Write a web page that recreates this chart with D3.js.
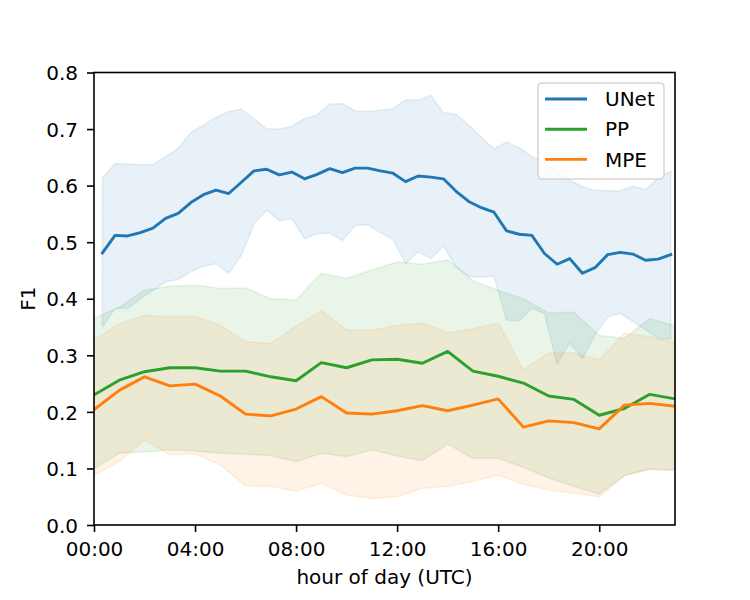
<!DOCTYPE html>
<html>
<head>
<meta charset="utf-8">
<script src="https://cdn.jsdelivr.net/npm/d3@7"></script>
<style>
  html, body { margin: 0; padding: 0; background: #ffffff; }
  svg text { font-family: "DejaVu Sans", sans-serif; fill: #000; }
</style>
</head>
<body>
<svg id="chart" width="750" height="600"></svg>
<script>
// ---------------- data ----------------
// UNet: half-hourly samples (minutes after 00:00 UTC)
const unetMinutes = [20,50,80,110,140,170,200,230,260,290,320,350,380,410,440,470,500,530,560,590,
  620,650,680,710,740,770,800,830,860,890,920,950,980,1010,1040,1070,1100,1130,1160,1190,
  1220,1250,1280,1310,1340,1370];
const unetMean = [0.481,0.512,0.511,0.517,0.525,0.542,0.551,0.570,0.584,0.592,
  0.586,0.606,0.626,0.629,0.619,0.624,0.612,0.620,0.630,0.623,
  0.631,0.631,0.626,0.622,0.607,0.617,0.615,0.612,0.590,0.572,
  0.561,0.553,0.520,0.514,0.512,0.480,0.461,0.471,0.445,0.455,
  0.478,0.482,0.479,0.468,0.470,0.478];
const unetUpper = [0.613,0.639,0.638,0.637,0.637,0.651,0.666,0.694,0.707,0.721,
  0.731,0.735,0.718,0.700,0.700,0.705,0.719,0.725,0.744,0.745,
  0.732,0.731,0.733,0.736,0.752,0.751,0.760,0.729,0.726,0.707,
  0.685,0.665,0.677,0.667,0.651,0.640,0.625,0.610,0.598,0.592,
  0.591,0.591,0.599,0.593,0.613,0.626];
const unetLower = [0.350,0.383,0.383,0.400,0.415,0.430,0.434,0.448,0.458,0.462,
  0.445,0.477,0.532,0.557,0.538,0.542,0.506,0.515,0.516,0.503,
  0.529,0.531,0.517,0.505,0.462,0.483,0.471,0.493,0.456,0.440,
  0.438,0.440,0.362,0.361,0.383,0.374,0.284,0.322,0.294,0.336,
  0.368,0.374,0.360,0.345,0.330,0.328];

// PP and MPE: hourly samples
const hours = [0,1,2,3,4,5,6,7,8,9,10,11,12,13,14,15,16,17,18,19,20,21,22,23];
const ppMean  = [0.230,0.256,0.271,0.278,0.278,0.272,0.272,0.262,0.255,0.287,0.278,0.292,
                 0.293,0.286,0.307,0.272,0.263,0.251,0.228,0.222,0.194,0.206,0.231,0.223];
const ppUpper = [0.365,0.385,0.415,0.422,0.424,0.418,0.419,0.400,0.398,0.445,0.436,0.451,
                 0.465,0.461,0.469,0.432,0.415,0.400,0.375,0.376,0.335,0.330,0.365,0.352];
const ppLower = [0.100,0.127,0.129,0.133,0.131,0.127,0.125,0.123,0.112,0.127,0.121,0.133,
                 0.122,0.114,0.143,0.118,0.118,0.102,0.083,0.068,0.055,0.088,0.099,0.096];
const mpeMean  = [0.204,0.238,0.262,0.246,0.249,0.228,0.196,0.193,0.205,0.227,0.198,0.196,
                  0.202,0.211,0.202,0.212,0.223,0.173,0.184,0.181,0.170,0.212,0.215,0.210];
const mpeUpper = [0.327,0.356,0.371,0.368,0.369,0.353,0.324,0.321,0.351,0.379,0.345,0.344,
                  0.353,0.357,0.340,0.347,0.357,0.274,0.304,0.304,0.292,0.339,0.333,0.322];
const mpeLower = [0.087,0.113,0.150,0.124,0.126,0.106,0.069,0.068,0.060,0.074,0.053,0.047,
                  0.050,0.065,0.068,0.077,0.088,0.072,0.062,0.056,0.050,0.087,0.098,0.098];

const xTicks = [0,4,8,12,16,20];
const xTickLabels = ["00:00","04:00","08:00","12:00","16:00","20:00"];
const yTicks = [0.0,0.1,0.2,0.3,0.4,0.5,0.6,0.7,0.8];
const seriesNames = ["UNet","PP","MPE"];
const seriesColors = ["#1f77b4","#2ca02c","#ff7f0e"];
const xLabel = "hour of day (UTC)";
const yLabel = "F1";

// ---------------- layout ----------------
const L = 94, R = 675, T = 72.5, B = 525;
const FS = 20;
const svg = d3.select("#chart");
const x = d3.scaleLinear().domain([0, 23]).range([L, R]);
const y = d3.scaleLinear().domain([0, 0.8]).range([B, T]);

const series = [
  { name: seriesNames[0], color: seriesColors[0],
    pts: unetMinutes.map((m, i) => ({ t: m / 60, m: unetMean[i], lo: unetLower[i], hi: unetUpper[i] })) },
  { name: seriesNames[1], color: seriesColors[1],
    pts: hours.map((h, i) => ({ t: h, m: ppMean[i], lo: ppLower[i], hi: ppUpper[i] })) },
  { name: seriesNames[2], color: seriesColors[2],
    pts: hours.map((h, i) => ({ t: h, m: mpeMean[i], lo: mpeLower[i], hi: mpeUpper[i] })) }
];

svg.append("defs").append("clipPath").attr("id", "plotclip")
  .append("rect").attr("x", L).attr("y", T).attr("width", R - L).attr("height", B - T);

const plot = svg.append("g").attr("clip-path", "url(#plotclip)");

const area = d3.area().x(d => x(d.t)).y0(d => y(d.lo)).y1(d => y(d.hi));
const line = d3.line().x(d => x(d.t)).y(d => y(d.m));

// bands
series.forEach(s => {
  plot.append("path").datum(s.pts)
    .attr("d", area)
    .attr("fill", s.color).attr("fill-opacity", 0.1)
    .attr("stroke", s.color).attr("stroke-opacity", 0.1)
    .attr("stroke-width", 1.6).attr("stroke-linejoin", "round");
});
// mean lines
series.forEach(s => {
  plot.append("path").datum(s.pts)
    .attr("d", line)
    .attr("fill", "none")
    .attr("stroke", s.color).attr("stroke-width", 2.9)
    .attr("stroke-linejoin", "round").attr("stroke-linecap", "square");
});

// ---------------- axes ----------------
const xAxis = d3.axisBottom(x).tickValues(xTicks)
  .tickFormat((d, i) => xTickLabels[i]).tickSizeInner(7).tickSizeOuter(0).tickPadding(7);
const gx = svg.append("g").attr("transform", `translate(0,${B})`).call(xAxis);
gx.select(".domain").remove();
gx.selectAll(".tick line").attr("stroke", "#000").attr("stroke-width", 1.6);
gx.selectAll(".tick text").attr("font-size", FS).attr("font-family", "DejaVu Sans")
  .attr("dy", null).attr("y", 31).attr("fill", "#000");

const yAxis = d3.axisLeft(y).tickValues(yTicks).tickFormat(d3.format(".1f"))
  .tickSizeInner(7).tickSizeOuter(0).tickPadding(9);
const gy = svg.append("g").attr("transform", `translate(${L},0)`).call(yAxis);
gy.select(".domain").remove();
gy.selectAll(".tick line").attr("stroke", "#000").attr("stroke-width", 1.6);
gy.selectAll(".tick text").attr("font-size", FS).attr("font-family", "DejaVu Sans")
  .attr("dy", "0.36em").attr("fill", "#000");

// spines
svg.append("rect").attr("x", L).attr("y", T).attr("width", R - L).attr("height", B - T)
  .attr("fill", "none").attr("stroke", "#000").attr("stroke-width", 1.6);

// axis labels
svg.append("text").attr("x", (L + R) / 2).attr("y", 583.5)
  .attr("text-anchor", "middle").attr("font-size", FS).text(xLabel);
svg.append("text")
  .attr("transform", `translate(35,${(T + B) / 2}) rotate(-90)`)
  .attr("text-anchor", "middle").attr("font-size", FS).text(yLabel);

// ---------------- legend ----------------
const lg = svg.append("g");
lg.append("rect").attr("x", 538).attr("y", 83).attr("width", 126).attr("height", 96)
  .attr("rx", 4).attr("ry", 4)
  .attr("fill", "#ffffff").attr("fill-opacity", 0.8)
  .attr("stroke", "#cccccc").attr("stroke-opacity", 0.8).attr("stroke-width", 1.6);
series.forEach((s, i) => {
  const cy = 99 + i * 30.2;
  lg.append("line").attr("x1", 545).attr("x2", 587).attr("y1", cy).attr("y2", cy)
    .attr("stroke", s.color).attr("stroke-width", 2.9);
  lg.append("text").attr("x", 605).attr("y", cy).attr("dy", "0.36em")
    .attr("font-size", FS).text(s.name);
});
</script>
</body>
</html>
